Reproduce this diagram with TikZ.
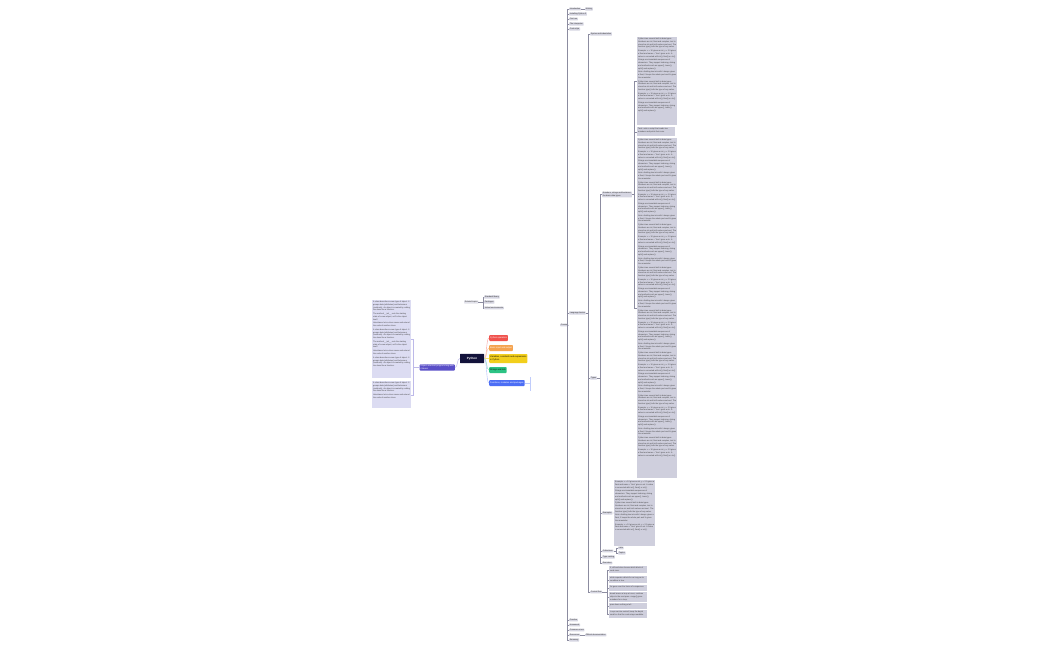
\documentclass[tikz,border=0pt]{standalone}
\usepackage{fontspec}
\setmainfont{Liberation Sans}
\usetikzlibrary{positioning, calc}

\definecolor{rootnavy}{HTML}{12123A}
\definecolor{redtopic}{HTML}{F0524D}
\definecolor{orangetopic}{HTML}{F5A34F}
\definecolor{yellowtopic}{HTML}{F2CF1C}
\definecolor{greentopic}{HTML}{2CC384}
\definecolor{bluetopic}{HTML}{4C6EF5}
\definecolor{purpletopic}{HTML}{5A4FC8}
\definecolor{leafgray}{HTML}{D6D6E2}
\definecolor{notegray}{HTML}{CFCFDD}
\definecolor{leftnote}{HTML}{DCDCF2}
\definecolor{treeline}{HTML}{8C8CA0}

\newcommand{\leaffont}{\fontsize{2}{2.6}\selectfont}
\newcommand{\notefont}{\fontsize{2}{2.7}\selectfont}
\newcommand{\notebox}[3]{\parbox[t][#2][t]{#1}{\setlength{\parskip}{1.2pt}\raggedright #3}}

% note texts
\newcommand{\ntA}{Python has several built-in data types. Numbers are int, float and complex, text is stored as str and truth values are bool. The function type() tells the type of any value.}
\newcommand{\ntB}{Example: x = 10 gives an int, y = 2.5 gives a float and name = "Ann" gives a str. A value is converted with int(), float() or str().}
\newcommand{\ntC}{Strings are immutable sequences of characters. They support indexing, slicing and methods such as upper(), lower(), split() and replace().}
\newcommand{\ntD}{Note: dividing two ints with / always gives a float, // keeps the whole part and \% gives the remainder.}
\newcommand{\ntE}{A class describes a new type of object. It groups data (attributes) and behaviour (methods). An object is created by calling the class like a function.}
\newcommand{\ntF}{The method \_\_init\_\_ sets the starting state of a new object; self is the object itself.}
\newcommand{\ntG}{Inheritance lets a class reuse and extend the code of another class.}
\newcommand{\notepile}[1]{\foreach \k in {1,...,#1}{\ntA\par\ntB\par\ntC\par\ntD\par}}

\begin{document}
\begin{tikzpicture}[
    x=1pt, y=-1pt,
    line width=0.4pt,
    root/.style={fill=rootnavy, text=white, font=\fontsize{3}{3.6}\selectfont\bfseries, minimum width=24pt, minimum height=9pt, rounded corners=0.6pt},
    topic/.style={rounded corners=0.8pt, inner sep=1pt, minimum height=6pt, anchor=west, font=\fontsize{2.2}{2.8}\selectfont, align=left},
    leaf/.style={fill=leafgray, rounded corners=0.5pt, inner sep=0.7pt, anchor=west, font=\leaffont, align=left, text=black!80},
    note/.style={fill=notegray, inner sep=1pt, anchor=north west, font=\notefont, text=black!75},
    link/.style={draw=treeline, line width=0.35pt}
]
\useasboundingbox[fill=white] (0,0) rectangle (1050,650);

% central topic
\node[root] (python) at (472,358.5) {Python};

% main branches
\node[topic, fill=redtopic, text=white] (operators) at (489,338) {Python operators};
\node[topic, fill=orangetopic, text=white] (inout) at (489,348) {Basic input and output};
\node[topic, fill=yellowtopic, minimum height=9pt] (variables) at (489,358.5) {Variables, constants and expressions\\in Python};
\node[topic, fill=greentopic] (strings) at (489,370) {Strings and lists};
\node[topic, fill=bluetopic, text=white] (functions) at (489,383) {Functions, modules and packages};

\draw[draw=redtopic!55] (python.east) .. controls +(3,0) and +(-3,0) .. (operators.west);
\draw[draw=orangetopic!55] (python.east) .. controls +(3,0) and +(-3,0) .. (inout.west);
\draw[draw=yellowtopic!60] (python.east) -- (variables.west);
\draw[draw=greentopic!55] (python.east) .. controls +(3,0) and +(-3,0) .. (strings.west);
\draw[draw=bluetopic!45] (python.east) .. controls +(3,0) and +(-3,0) .. (functions.west);

\coordinate (bluejoin) at (530,383);
\coordinate (bluetop) at (530,377);
\coordinate (bluebottom) at (530,391);
\draw[draw=bluetopic!35] (functions.east) -- (bluejoin);
\draw[draw=bluetopic!35] (bluetop) -- (bluebottom);

% left branch
\node[topic, fill=purpletopic, text=white, anchor=east] (oop) at (455,367.5) {Object-oriented programming with\\classes};
\draw[draw=purpletopic!45] (python.west) .. controls +(-3,0) and +(3,0) .. (oop.east);

\node[note, fill=leftnote] (oopnotes) at (372,300) {\notebox{37pt}{76pt}{\ntE\par\ntF\par\ntG\par\ntE\par\ntF\par\ntG\par\ntE}};
\node[note, fill=leftnote] (oopextra) at (372,381) {\notebox{37pt}{25pt}{\ntE\par\ntG}};
\coordinate (oopbracket) at (413,0);
\foreach \n in {oopnotes, oopextra}
    \draw[draw=purpletopic!40] (oop.west) -- (oop.west -| oopbracket) |- (\n.east);

% floating topic
\node[leaf, fill=leafgray!70] (related) at (464,302) {Related topics};
\node[leaf] (stdlib) at (484,297) {Standard library};
\node[leaf] (packages) at (484,302) {Packages};
\node[leaf] (venvs) at (484,308) {Virtual environments};
\coordinate (relbracket) at (483,0);
\foreach \n in {stdlib, packages, venvs}
    \draw[link] (related.east) -- (related.east -| relbracket) |- (\n.west);

% right tree
\node[leaf] (course) at (560,325) {Course};

\node[leaf] (intro) at (569,9) {Introduction};
\node[leaf] (history) at (585,9) {History};
\node[leaf] (install) at (569,14) {Installing Python 3};
\node[leaf] (firstrun) at (569,19) {First run};
\node[leaf] (interp) at (569,24) {The interpreter};
\node[leaf] (style) at (569,29) {Code style};
\node[leaf] (basics) at (569,313) {Language basics};
\node[leaf] (practice) at (569,620) {Practice};
\node[leaf] (homework) at (569,625) {Homework};
\node[leaf] (errors) at (569,630) {Common errors};
\node[leaf] (resources) at (569,635) {Resources};
\node[leaf] (docs) at (585,635) {Official documentation};
\node[leaf] (summary) at (569,640) {Summary};

\coordinate (coursebracket) at (567,0);
\foreach \n in {intro, install, firstrun, interp, style, basics, practice, homework, errors, resources, summary}
    \draw[link] (course.east) -- (course.east -| coursebracket) |- (\n.west);
\draw[link] (intro) -- (history);
\draw[link] (resources) -- (docs);

% language basics
\node[leaf] (syntax) at (590,34) {Syntax and indentation};
\node[leaf] (types) at (590,378) {Types};
\node[leaf] (control) at (590,592) {Control flow};
\coordinate (basicsbracket) at (588,0);
\foreach \n in {syntax, types, control}
    \draw[link] (basics.east) -- (basics.east -| basicsbracket) |- (\n.west);

% types
\node[leaf] (builtin) at (602,194.5) {Numbers, strings and booleans:\\the basic data types};
\node[leaf] (examples) at (602,513) {Examples};
\node[leaf] (collections) at (602,551) {Collections};
\node[leaf] (casting) at (602,557) {Type casting};
\node[leaf] (exercises) at (602,563) {Exercises};
\coordinate (typesbracket) at (600,0);
\foreach \n in {builtin, examples, collections, casting, exercises}
    \draw[link] (types.east) -- (types.east -| typesbracket) |- (\n.west);

\node[leaf] (lists) at (618,548) {Lists};
\node[leaf] (tuples) at (618,553) {Tuples};
\coordinate (collbracket) at (616,0);
\foreach \n in {lists, tuples}
    \draw[link] (collections.east) -- (collections.east -| collbracket) |- (\n.west);

% notes on the basic types
\node[note] (typenote) at (637,37) {\notebox{38pt}{86pt}{\notepile{1}\ntA\par\ntB\par\ntC}};
\node[note] (tasknote) at (637,127) {\notebox{36pt}{7pt}{Task: write a script that reads two numbers and prints their sum.}};
\node[note] (longnote) at (637,138) {\notebox{38pt}{338pt}{\notepile{7}\ntA\par\ntB}};
\coordinate (builtinbracket) at (634,0);
\foreach \n in {typenote, tasknote, longnote}
    \draw[link] (builtin.east) -- (builtin.east -| builtinbracket) |- (\n.west);

\node[note] (examplenote) at (614,480) {\notebox{39pt}{64pt}{\ntB\par\ntC\par\ntA\par\ntD\par\ntB}};
\draw[link] (examples) -- (examplenote);

% control flow
\node[note] (ifnote) at (609,566) {\notebox{36pt}{5pt}{if, elif and else choose which block of code runs.}};
\node[note] (whilenote) at (609,576) {\notebox{36pt}{5pt}{while repeats a block for as long as its condition is true.}};
\node[note] (fornote) at (609,585) {\notebox{36pt}{4pt}{for goes over the items of a sequence.}};
\node[note] (breaknote) at (609,592) {\notebox{36pt}{8pt}{break leaves a loop at once; continue skips to the next pass. range() gives numbers for a loop.}};
\node[note] (passnote) at (609,603) {\notebox{36pt}{3.5pt}{pass does nothing at all.}};
\node[note] (nestnote) at (609,610) {\notebox{36pt}{6pt}{Loops can be nested; keep the depth small so that the code stays readable.}};
\coordinate (controlbracket) at (607,0);
\foreach \n in {ifnote, whilenote, fornote, breaknote, passnote, nestnote}
    \draw[link] (control.east) -- (control.east -| controlbracket) |- (\n.west);

\end{tikzpicture}
\end{document}
